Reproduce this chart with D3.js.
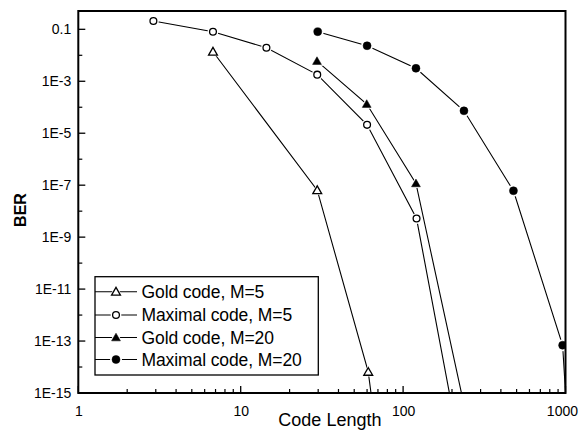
<!DOCTYPE html>
<html>
<head>
<meta charset="utf-8">
<script src="https://cdn.jsdelivr.net/npm/d3@7"></script>
<style>
  html, body { margin: 0; padding: 0; background: #fff; }
  svg { display: block; font-family: "Liberation Sans", Arial, sans-serif; }
</style>
</head>
<body>
<svg id="chart" width="580" height="432"></svg>
<script>
// ---- data ----
const seriesNames = ["Gold code, M=5", "Maximal code, M=5", "Gold code, M=20", "Maximal code, M=20"];
const xGold5 = [6.75, 29.6, 61, 121];
const berGold5 = [0.0137, 6.4e-8, 6.5e-15, 4e-29];
const xMax5 = [2.9, 6.75, 14.4, 29.6, 60, 121, 240];
const berMax5 = [0.21, 0.081, 0.0195, 1.8e-3, 2.1e-5, 5.2e-9, 7e-19];
const xGold20 = [29.5, 59.7, 120, 240];
const berGold20 = [6.0e-3, 1.33e-4, 1.17e-7, 2.5e-16];
const xMax20 = [29.8, 60, 120, 237, 478, 960, 1920];
const berMax20 = [0.081, 0.0233, 3.15e-3, 7.3e-5, 6.1e-8, 6.9e-14, 1e-44];
const yTickLabels = ["0.1", "1E-3", "1E-5", "1E-7", "1E-9", "1E-11", "1E-13", "1E-15"];
const yTickValues = [1e-1, 1e-3, 1e-5, 1e-7, 1e-9, 1e-11, 1e-13, 1e-15];
const xTickValues = [1, 10, 100, 1000];
const xTickLabels = ["1", "10", "100", "1000"];
const xTitle = "Code Length";
const yTitle = "BER";

// ---- layout ----
const L = 78.3, R = 565.5, T = 11, B = 393;
const svg = d3.select("#chart");
const x = d3.scaleLog().domain([1, 1000]).range([L, R]);
const y = d3.scaleLog().domain([1e-15, 0.507]).range([B, T]);

const series = [
  { name: seriesNames[0], xs: xGold5, ys: berGold5, shape: "tri", fill: false },
  { name: seriesNames[1], xs: xMax5, ys: berMax5, shape: "circ", fill: false },
  { name: seriesNames[2], xs: xGold20, ys: berGold20, shape: "tri", fill: true },
  { name: seriesNames[3], xs: xMax20, ys: berMax20, shape: "circ", fill: true }
];

svg.append("defs").append("clipPath").attr("id", "plotclip")
  .append("rect").attr("x", L).attr("y", T).attr("width", R - L).attr("height", B - T);

const triSym = d3.symbol().type(d3.symbolTriangle).size(34);
const triHalo = d3.symbol().type(d3.symbolTriangle).size(75);

function drawMarker(g, cx, cy, s, halo) {
  if (s.shape === "circ") {
    const r = s.fill ? 4 : 3.4;
    g.append("circle").attr("cx", cx).attr("cy", cy)
      .attr("r", halo ? r + 2 : r)
      .attr("fill", halo ? "#fff" : (s.fill ? "#000" : "#fff"))
      .attr("stroke", halo ? "none" : "#000")
      .attr("stroke-width", s.fill ? 0.5 : 1.3);
  } else {
    g.append("path").attr("d", halo ? triHalo() : triSym())
      .attr("transform", `translate(${cx},${cy + 0.8})`)
      .attr("fill", halo ? "#fff" : (s.fill ? "#000" : "#fff"))
      .attr("stroke", halo ? "none" : "#000")
      .attr("stroke-width", s.fill ? 0.5 : 1.3)
      .attr("stroke-linejoin", "miter");
  }
}

const plot = svg.append("g").attr("clip-path", "url(#plotclip)");
const line = d3.line().x(d => x(d[0])).y(d => y(d[1]));
series.forEach(s => {
  const pts = s.xs.map((v, i) => [v, s.ys[i]]);
  plot.append("path").datum(pts).attr("d", line)
    .attr("fill", "none").attr("stroke", "#000").attr("stroke-width", 1.1);
});
series.forEach(s => {
  s.xs.forEach((v, i) => drawMarker(plot, x(v), y(s.ys[i]), s, true));
});
series.forEach(s => {
  s.xs.forEach((v, i) => drawMarker(plot, x(v), y(s.ys[i]), s, false));
});

// ---- axes ----
const axG = svg.append("g");
const yMinor = d3.range(-14, 0, 2).map(e => Math.pow(10, e));
const xMinor = [];
[1, 10, 100].forEach(dec => { for (let k = 2; k <= 9; k++) xMinor.push(dec * k); });

const yAxis = d3.axisLeft(y).tickValues(yTickValues).tickSize(0).tickPadding(7)
  .tickFormat((d, i) => yTickLabels[i]);
const yg = axG.append("g").attr("transform", `translate(${L},0)`).call(yAxis);
yg.select(".domain").remove();
yg.selectAll("text").attr("font-size", 14).attr("fill", "#000")
  .attr("font-family", "'Liberation Sans', Arial, sans-serif");

const xAxis = d3.axisBottom(x).tickValues(xTickValues).tickSize(0).tickPadding(13)
  .tickFormat((d, i) => xTickLabels[i]);
const xg = axG.append("g").attr("transform", `translate(0,${B})`).call(xAxis);
xg.select(".domain").remove();
xg.selectAll("text").attr("font-size", 14).attr("fill", "#000")
  .attr("font-family", "'Liberation Sans', Arial, sans-serif");
// keep the last label inside the window, as in the reference
xg.selectAll("text").filter(d => d === 1000).attr("text-anchor", "end").attr("dx", 12);

// inward ticks
yTickValues.forEach(v => axG.append("line").attr("x1", L).attr("x2", L + 7)
  .attr("y1", y(v)).attr("y2", y(v)).attr("stroke", "#000").attr("stroke-width", 1.3));
yMinor.forEach(v => axG.append("line").attr("x1", L).attr("x2", L + 4)
  .attr("y1", y(v)).attr("y2", y(v)).attr("stroke", "#000").attr("stroke-width", 1.2));
xTickValues.forEach(v => axG.append("line").attr("x1", x(v)).attr("x2", x(v))
  .attr("y1", B).attr("y2", B - 7).attr("stroke", "#000").attr("stroke-width", 1.3));
xMinor.forEach(v => axG.append("line").attr("x1", x(v)).attr("x2", x(v))
  .attr("y1", B).attr("y2", B - 4).attr("stroke", "#000").attr("stroke-width", 1.2));

// frame
axG.append("rect").attr("x", L).attr("y", T).attr("width", R - L).attr("height", B - T)
  .attr("fill", "none").attr("stroke", "#000").attr("stroke-width", 2);

// titles
svg.append("text").attr("x", (L + R) / 2 + 8).attr("y", 426)
  .attr("text-anchor", "middle").attr("font-size", 18).attr("fill", "#000")
  .text(xTitle);
svg.append("text").attr("transform", "translate(26,210) rotate(-90)")
  .attr("text-anchor", "middle").attr("font-size", 16).attr("font-weight", "bold")
  .attr("fill", "#000").text(yTitle);

// ---- legend ----
const lg = svg.append("g");
const lgX = 95, lgY = 276.7, lgW = 223.3, lgH = 98.3;
lg.append("rect").attr("x", lgX).attr("y", lgY).attr("width", lgW).attr("height", lgH)
  .attr("fill", "#fff").attr("stroke", "#000").attr("stroke-width", 1.3);
const rowY = [291.7, 315, 337.5, 359.5];
series.forEach((s, i) => {
  const cy = rowY[i];
  lg.append("line").attr("x1", lgX).attr("x2", 137).attr("y1", cy).attr("y2", cy)
    .attr("stroke", "#000").attr("stroke-width", 1.1);
  drawMarker(lg, 116, cy, s, true);
  drawMarker(lg, 116, cy, s, false);
  lg.append("text").attr("x", 141.5).attr("y", cy + 6)
    .attr("font-size", 17.5).attr("fill", "#000").attr("letter-spacing", -0.1)
    .text(s.name);
});
</script>
</body>
</html>
